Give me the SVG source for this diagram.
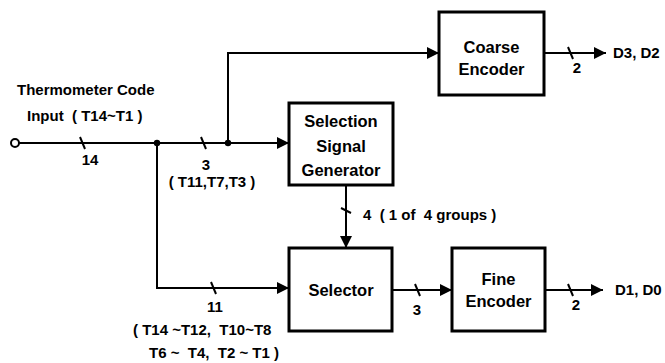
<svg xmlns="http://www.w3.org/2000/svg" width="665" height="363" viewBox="0 0 665 363">
<defs>
<marker id="arr" markerWidth="12" markerHeight="12" refX="12" refY="6" orient="auto" markerUnits="userSpaceOnUse">
<path d="M0,0 L12,6 L0,12 Z" fill="#000"/>
</marker>
<style>
.box{fill:#fff;stroke:#000;stroke-width:3}
.bt{font-family:"Liberation Sans",Arial,sans-serif;font-weight:bold;font-size:16.5px;fill:#000;text-anchor:middle}
.lb{font-family:"Liberation Sans",Arial,sans-serif;font-weight:bold;font-size:15px;fill:#000}
.ln{fill:none;stroke:#000;stroke-width:2}
.tk{stroke:#000;stroke-width:2}
</style>
</defs>
<rect width="665" height="363" fill="#fff"/>
<g id="connectors">
<circle cx="15" cy="143" r="4" fill="#fff" stroke="#000" stroke-width="2"/>
<path class="ln" d="M19,143 H289" marker-end="url(#arr)"/>
<path class="ln" d="M228,143 V53 H439" marker-end="url(#arr)"/>
<path class="ln" d="M157,143 V288 H289" marker-end="url(#arr)"/>
<path class="ln" d="M346,185 V248" marker-end="url(#arr)"/>
<path class="ln" d="M392,290 H452" marker-end="url(#arr)"/>
<path class="ln" d="M544,53 H606" marker-end="url(#arr)"/>
<path class="ln" d="M545,290 H603" marker-end="url(#arr)"/>
<circle cx="157" cy="143" r="3.2" fill="#000"/>
<circle cx="228" cy="143" r="3.2" fill="#000"/>
<line class="tk" x1="80" y1="137" x2="85" y2="149"/>
<line class="tk" x1="201" y1="137" x2="206" y2="149"/>
<line class="tk" x1="211" y1="282" x2="216" y2="294"/>
<line class="tk" x1="415" y1="284" x2="420" y2="296"/>
<line class="tk" x1="568" y1="47" x2="573" y2="59"/>
<line class="tk" x1="568" y1="284" x2="573" y2="296"/>
<line class="tk" x1="341" y1="208" x2="351" y2="213"/>
<text class="lb" x="17" y="95">Thermometer Code</text>
<text class="lb" x="27" y="121" xml:space="preserve">Input  ( T14~T1 )</text>
<text class="lb" x="90" y="165" text-anchor="middle">14</text>
<text class="lb" x="206" y="170" text-anchor="middle">3</text>
<text class="lb" x="212" y="187" text-anchor="middle">( T11,T7,T3 )</text>
<text class="lb" x="363" y="220" xml:space="preserve">4  ( 1 of  4 groups )</text>
<text class="lb" x="215" y="312" text-anchor="middle">11</text>
<text class="lb" x="133" y="335" xml:space="preserve">( T14 ~T12,  T10~T8</text>
<text class="lb" x="149" y="358" xml:space="preserve">T6 ~  T4,  T2 ~ T1 )</text>
<text class="lb" x="417" y="315" text-anchor="middle">3</text>
<text class="lb" x="577" y="73" text-anchor="middle">2</text>
<text class="lb" x="576" y="310" text-anchor="middle">2</text>
<text class="lb" x="613" y="58">D3, D2</text>
<text class="lb" x="615" y="295">D1, D0</text>
</g>
<g id="coarse-encoder">
<rect class="box" x="439" y="12" width="105" height="83"/>
<text class="bt" x="491.5" y="53">Coarse</text>
<text class="bt" x="491.5" y="75">Encoder</text>
</g>
<g id="selection-signal-generator">
<rect class="box" x="289" y="103" width="104" height="82"/>
<text class="bt" x="341" y="127">Selection</text>
<text class="bt" x="341" y="151.5">Signal</text>
<text class="bt" x="341" y="176">Generator</text>
</g>
<g id="selector">
<rect class="box" x="289" y="248" width="103" height="83"/>
<text class="bt" x="341" y="296">Selector</text>
</g>
<g id="fine-encoder">
<rect class="box" x="452" y="248" width="93" height="83"/>
<text class="bt" x="498.5" y="285">Fine</text>
<text class="bt" x="498.5" y="307">Encoder</text>
</g>
</svg>
